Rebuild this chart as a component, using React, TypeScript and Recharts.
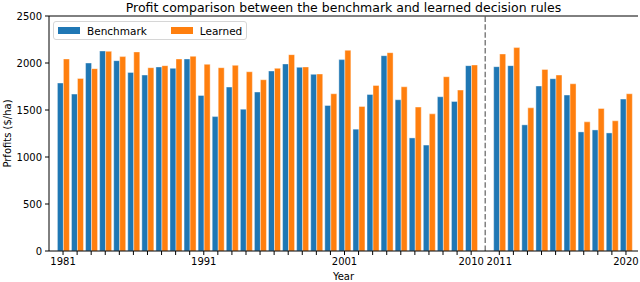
import { Bar, BarChart, Label, ReferenceLine, XAxis, YAxis } from "recharts";

// Training period (left of the dashed line) and test period (right of it).
const trainYears = [
  "1981", "1982", "1983", "1984", "1985", "1986", "1987", "1988", "1989", "1990",
  "1991", "1992", "1993", "1994", "1995", "1996", "1997", "1998", "1999", "2000",
  "2001", "2002", "2003", "2004", "2005", "2006", "2007", "2008", "2009", "2010",
];
const testYears = ["2011", "2012", "2013", "2014", "2015", "2016", "2017", "2018", "2019", "2020"];

const benchmarkTrain = [
  1787, 1669, 2000, 2128, 2025, 1900, 1872, 1958, 1943, 2043,
  1655, 1430, 1744, 1509, 1691, 1915, 1990, 1954, 1879, 1548,
  2036, 1296, 1665, 2078, 1609, 1203, 1127, 1641, 1591, 1972,
];
const learnedTrain = [
  2043, 1836, 1940, 2124, 2068, 2118, 1950, 1972, 2043, 2071,
  1986, 1950, 1975, 1907, 1822, 1943, 2089, 1958, 1883, 1673,
  2135, 1537, 1761, 2110, 1747, 1531, 1459, 1854, 1712, 1979,
];
const benchmarkTest = [1961, 1972, 1342, 1755, 1833, 1659, 1267, 1288, 1256, 1616];
const learnedTest = [2096, 2164, 1523, 1932, 1872, 1779, 1374, 1516, 1385, 1673];

const labelledYears = ["1981", "1991", "2001", "2010", "2011", "2020"];
const yTicks = [0, 500, 1000, 1500, 2000, 2500];

const GAP = "gap";

const series = [
  { key: "benchmark", name: "Benchmark", color: "#1f77b4" },
  { key: "learned", name: "Learned", color: "#ff7f0e" },
];

const data = [
  ...trainYears.map((year, i) => ({
    year,
    benchmark: benchmarkTrain[i],
    learned: learnedTrain[i],
  })),
  { year: GAP, benchmark: null, learned: null },
  ...testYears.map((year, i) => ({
    year,
    benchmark: benchmarkTest[i],
    learned: learnedTest[i],
  })),
];

const FONT = "'DejaVu Sans', sans-serif";
const tickStyle = { fill: "#000", fontSize: 10, fontFamily: FONT };

export default function App() {
  return (
    <div
      style={{
        position: "fixed",
        left: 0,
        top: 0,
        width: 640,
        height: 282,
        background: "#fff",
        fontFamily: FONT,
      }}
    >
      <BarChart
        width={640}
        height={282}
        data={data}
        margin={{ top: 16, right: 2, bottom: 0, left: 0 }}
        barCategoryGap="10%"
        barGap={0}
      >
        <XAxis
          dataKey="year"
          interval={0}
          ticks={[...trainYears, ...testYears]}
          height={31}
          padding={{ left: 7, right: 5 }}
          tick={tickStyle}
          tickSize={4}
          tickMargin={3}
          tickLine={{ stroke: "#000" }}
          axisLine={{ stroke: "#000" }}
          tickFormatter={(v: string) => (labelledYears.includes(v) ? v : "")}
        >
          <Label
            content={(props: any) => {
              const vb = props.viewBox;
              return (
                <text
                  x={vb.x + vb.width / 2}
                  y={280}
                  textAnchor="middle"
                  fontSize={10}
                  fontFamily={FONT}
                  fill="#000"
                >
                  Year
                </text>
              );
            }}
          />
        </XAxis>
        <YAxis
          domain={[0, 2500]}
          ticks={yTicks}
          width={49}
          tick={tickStyle}
          tickSize={4}
          tickMargin={3}
          tickLine={{ stroke: "#000" }}
          axisLine={{ stroke: "#000" }}
        >
          <Label
            content={(props: any) => {
              const vb = props.viewBox;
              const x = 10.5;
              const y = vb.y + vb.height / 2;
              return (
                <text
                  x={x}
                  y={y}
                  transform={`rotate(-90 ${x} ${y})`}
                  textAnchor="middle"
                  fontSize={10}
                  fontFamily={FONT}
                  fill="#000"
                >
                  Prfofits ($/ha)
                </text>
              );
            }}
          />
        </YAxis>
        <YAxis
          yAxisId="right"
          orientation="right"
          domain={[0, 2500]}
          width={0}
          tick={false}
          tickLine={false}
          axisLine={{ stroke: "#000" }}
        />
        {series.map((s) => (
          <Bar
            key={s.key}
            dataKey={s.key}
            name={s.name}
            fill={s.color}
            stroke="#fff"
            strokeWidth={0.4}
            isAnimationActive={false}
          />
        ))}
        <ReferenceLine
          x={GAP}
          stroke="#808080"
          strokeWidth={1.5}
          strokeDasharray="5.5 2.4"
        />
        {/* top frame of the axes box */}
        <ReferenceLine y={2500} stroke="#000" strokeWidth={1} ifOverflow="visible" />
      </BarChart>

      {/* title */}
      <div
        style={{
          position: "absolute",
          left: 49,
          width: 589,
          top: 0,
          textAlign: "center",
          fontSize: 12.5,
          lineHeight: "15px",
          color: "#000",
          whiteSpace: "nowrap",
        }}
      >
        Profit comparison between the benchmark and learned decision rules
      </div>

      {/* legend */}
      <div
        style={{
          position: "absolute",
          left: 53,
          top: 21,
          width: 194,
          height: 19,
          boxSizing: "border-box",
          border: "1px solid #d6d6d6",
          borderRadius: 3,
          background: "rgba(255,255,255,0.8)",
          display: "flex",
          alignItems: "center",
          paddingLeft: 4,
          gap: 24,
          fontSize: 10.5,
          color: "#000",
        }}
      >
        {series.map((s) => (
          <div key={s.key} style={{ display: "flex", alignItems: "center" }}>
            <span
              style={{
                display: "inline-block",
                width: 22,
                height: 7,
                background: s.color,
                marginRight: 7,
              }}
            />
            <span>{s.name}</span>
          </div>
        ))}
      </div>
    </div>
  );
}
